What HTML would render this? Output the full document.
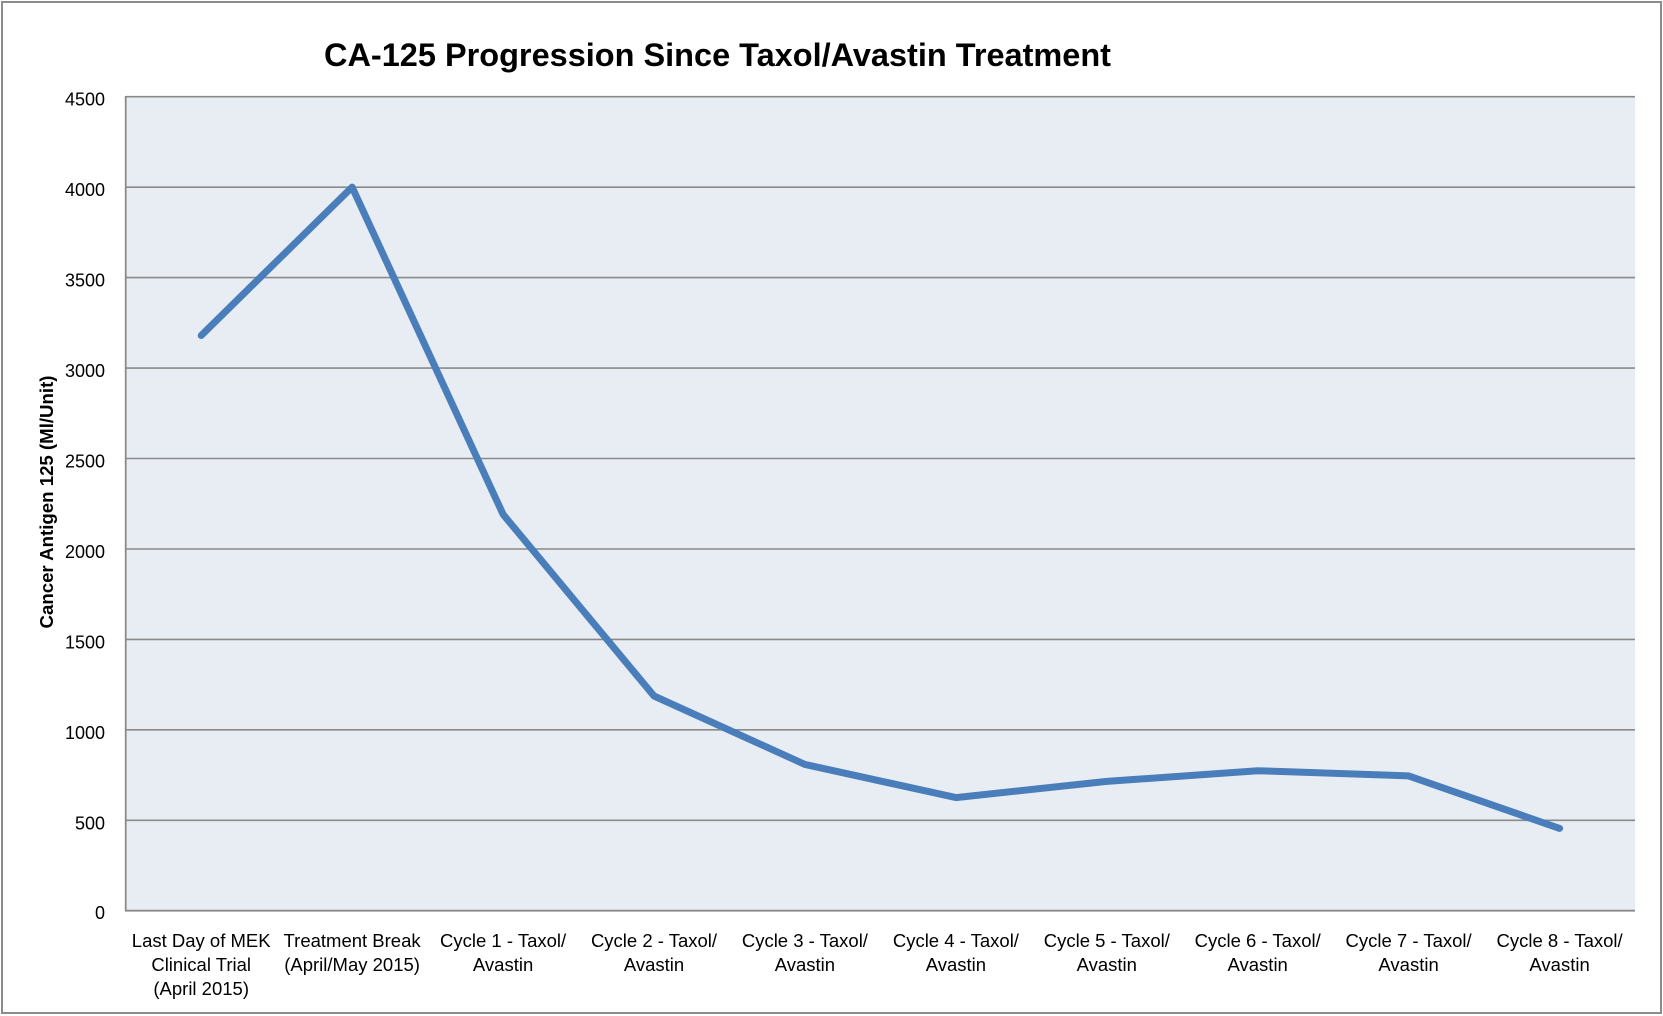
<!DOCTYPE html>
<html>
<head>
<meta charset="utf-8">
<style>
  html, body { margin: 0; padding: 0; background: #ffffff; }
  svg { display: block; }
  text { font-family: "Liberation Sans", Arial, sans-serif; fill: #000; }
</style>
</head>
<body>
<svg width="1663" height="1016" viewBox="0 0 1663 1016" xmlns="http://www.w3.org/2000/svg">
  <rect x="0" y="0" width="1663" height="1016" fill="#ffffff"/>
  <!-- outer frame -->
  <rect x="2" y="2" width="1659" height="1011" fill="none" stroke="#8c8c8c" stroke-width="2"/>

  <!-- title -->
  <text x="324" y="66" font-size="32" font-weight="bold" textLength="787" lengthAdjust="spacingAndGlyphs">CA-125 Progression Since Taxol/Avastin Treatment</text>

  <!-- plot area -->
  <rect x="125.7" y="96.7" width="1509.3" height="814" fill="#e8edf4"/>

  <!-- gridlines -->
  <g stroke="#8a8a8a" stroke-width="1.6">
    <line x1="125.7" y1="96.7" x2="1635" y2="96.7"/>
    <line x1="125.7" y1="187.2" x2="1635" y2="187.2"/>
    <line x1="125.7" y1="277.6" x2="1635" y2="277.6"/>
    <line x1="125.7" y1="368.1" x2="1635" y2="368.1"/>
    <line x1="125.7" y1="458.5" x2="1635" y2="458.5"/>
    <line x1="125.7" y1="549.0" x2="1635" y2="549.0"/>
    <line x1="125.7" y1="639.4" x2="1635" y2="639.4"/>
    <line x1="125.7" y1="729.8" x2="1635" y2="729.8"/>
    <line x1="125.7" y1="820.3" x2="1635" y2="820.3"/>
  </g>
  <!-- axes -->
  <g stroke="#8a8a8a" stroke-width="1.8">
    <line x1="125.7" y1="96" x2="125.7" y2="911.5"/>
    <line x1="125" y1="910.7" x2="1635" y2="910.7"/>
  </g>

  <!-- y tick labels -->
  <g font-size="18" text-anchor="end">
    <text x="105" y="105.7">4500</text>
    <text x="105" y="196.2">4000</text>
    <text x="105" y="286.6">3500</text>
    <text x="105" y="377.1">3000</text>
    <text x="105" y="467.5">2500</text>
    <text x="105" y="558.0">2000</text>
    <text x="105" y="648.4">1500</text>
    <text x="105" y="738.8">1000</text>
    <text x="105" y="829.3">500</text>
    <text x="105" y="919.0">0</text>
  </g>

  <!-- y axis title -->
  <text transform="translate(53,502) rotate(-90)" font-size="18" font-weight="bold" text-anchor="middle" textLength="253" lengthAdjust="spacingAndGlyphs">Cancer Antigen 125 (Ml/Unit)</text>

  <!-- data line -->
  <polyline fill="none" stroke="#4a7ebb" stroke-width="7" stroke-linejoin="round" stroke-linecap="round"
    points="201.2,335.5 352.1,187.1 503.1,514.4 654.0,696.0 804.9,764.4 955.9,797.6 1106.8,781.4 1257.7,770.7 1408.6,775.9 1559.6,828.4"/>

  <!-- x labels -->
  <g font-size="18.5" text-anchor="middle">
    <text x="201.2" y="947">Last Day of MEK</text>
    <text x="201.2" y="971">Clinical Trial</text>
    <text x="201.2" y="995">(April 2015)</text>

    <text x="352.1" y="947">Treatment Break</text>
    <text x="352.1" y="971">(April/May 2015)</text>

    <text x="503.1" y="947">Cycle 1 - Taxol/</text>
    <text x="503.1" y="971">Avastin</text>

    <text x="654.0" y="947">Cycle 2 - Taxol/</text>
    <text x="654.0" y="971">Avastin</text>

    <text x="804.9" y="947">Cycle 3 - Taxol/</text>
    <text x="804.9" y="971">Avastin</text>

    <text x="955.9" y="947">Cycle 4 - Taxol/</text>
    <text x="955.9" y="971">Avastin</text>

    <text x="1106.8" y="947">Cycle 5 - Taxol/</text>
    <text x="1106.8" y="971">Avastin</text>

    <text x="1257.7" y="947">Cycle 6 - Taxol/</text>
    <text x="1257.7" y="971">Avastin</text>

    <text x="1408.6" y="947">Cycle 7 - Taxol/</text>
    <text x="1408.6" y="971">Avastin</text>

    <text x="1559.6" y="947">Cycle 8 - Taxol/</text>
    <text x="1559.6" y="971">Avastin</text>
  </g>
</svg>
</body>
</html>
